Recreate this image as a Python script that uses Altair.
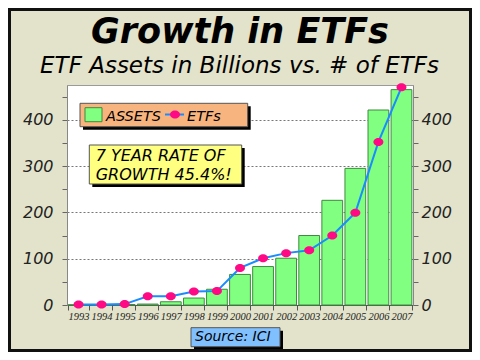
import altair as alt
import pandas as pd

years = ["1993", "1994", "1995", "1996", "1997", "1998", "1999", "2000",
         "2001", "2002", "2003", "2004", "2005", "2006", "2007"]
assets = [0.5, 0.5, 1, 2, 7, 15, 34, 66, 83, 101, 150, 226, 295, 421, 465]
etfs = [1, 1, 2, 19, 19, 29, 30, 80, 101, 112, 118, 150, 199, 352, 470]
axis_ticks = [0, 50, 100, 150, 200, 250, 300, 350, 400, 450]

title_text = "Growth in ETFs"
subtitle_text = "ETF Assets in Billions vs. # of ETFs"
legend_labels = ["ASSETS", "ETFs"]
note_lines = ["7 YEAR RATE OF", "GROWTH 45.4%!"]
source_text = "Source: ICI"

df = pd.DataFrame({"year": years, "assets": assets, "etfs": etfs})
one = pd.DataFrame({"d": [0]})

W, H = 346, 220
PADL, PADT = 59, 77
CW, CH = 464, 344

FONT = "DejaVu Sans"
DOMAIN = [0, 475]

xenc = alt.X("year:O", sort=years, title=None,
             scale=alt.Scale(paddingInner=0.1, paddingOuter=0.05),
             axis=alt.Axis(labelAngle=0, labelFont="Liberation Serif",
                           labelFontStyle="italic", labelFontSize=10.5,
                           labelColor="#222222", labelPadding=1, tickBand="extent",
                           tickSize=5, tickColor="#555555", domainColor="#555555"))

label_expr = "datum.value % 100 == 0 ? datum.label : ''"
yscale = alt.Scale(domain=DOMAIN, nice=False, zero=True)

bars = alt.Chart(df).mark_bar(fill="#80ff80", stroke="#3f8a3f", strokeWidth=1).encode(
    x=xenc,
    y=alt.Y("assets:Q", title=None, scale=yscale,
            axis=alt.Axis(values=axis_ticks, labelExpr=label_expr,
                          labelFont=FONT, labelFontStyle="italic", labelFontSize=16,
                          labelColor="#222222", labelPadding=9, tickSize=5,
                          tickColor="#666666", domainColor="#888888",
                          grid=True, gridDash=[2, 2], gridColor="#777777",
                          gridOpacity={"condition": {"test": "datum.value % 100 == 0 && datum.value > 0", "value": 1}, "value": 0})),
)

yright = alt.Y("etfs:Q", title=None, scale=yscale,
               axis=alt.Axis(orient="right", values=axis_ticks, labelExpr=label_expr,
                             labelFont=FONT, labelFontStyle="italic", labelFontSize=16,
                             labelColor="#222222", labelPadding=3, tickSize=5,
                             tickColor="#666666", domainColor="#888888", grid=False))

ELLIPSE = "M-1,0A1,0.8 0 1,0 1,0A1,0.8 0 1,0 -1,0Z"
line = alt.Chart(df).mark_line(color="#1a8cff", strokeWidth=2).encode(
    x=alt.X("year:O", sort=years), y=yright)
pts = alt.Chart(df).mark_point(shape=ELLIPSE, filled=True, fill="#ff0a84",
                               opacity=1, size=100, strokeWidth=0).encode(
    x=alt.X("year:O", sort=years), y=yright)
etf_layer = alt.layer(line, pts)

deco = alt.Chart(one)


def box(x1, x2, y1, y2, fill, shadow=True, stroke="#555555"):
    layers = []
    if shadow:
        layers.append(deco.mark_rect(fill="#000000").encode(
            x=alt.value(x1 + 3), x2=alt.value(x2 + 3), y=alt.value(y1 + 3), y2=alt.value(y2 + 3)))
    layers.append(deco.mark_rect(fill=fill, stroke=stroke, strokeWidth=1).encode(
        x=alt.value(x1), x2=alt.value(x2), y=alt.value(y1), y2=alt.value(y2)))
    return layers


def text(s, x, y, size, align="left", weight="normal", font=FONT):
    return deco.mark_text(text=s, font=font, fontSize=size, fontStyle="italic",
                          fontWeight=weight, align=align, baseline="alphabetic",
                          color="#000000").encode(x=alt.value(x), y=alt.value(y))


decos = []
decos.append(text(title_text, 173, -42, 35, align="center", weight="bold"))
decos.append(text(subtitle_text, 172.5, -12, 23, align="center"))
decos += box(13, 180.7, 18.3, 41.7, "#f7b47e")
decos.append(deco.mark_rect(fill="#80ff80", stroke="#3f8a3f", strokeWidth=1).encode(
    x=alt.value(18), x2=alt.value(35), y=alt.value(22.7), y2=alt.value(36.7)))
decos.append(text(legend_labels[0], 39, 36, 14.5))
decos.append(deco.mark_rule(color="#1a8cff", strokeWidth=2).encode(
    x=alt.value(98), x2=alt.value(117), y=alt.value(29.5)))
decos.append(deco.mark_point(shape=ELLIPSE, filled=True, fill="#ff0a84", opacity=1,
                             size=100, strokeWidth=0).encode(x=alt.value(108), y=alt.value(29.5)))
decos.append(text(legend_labels[1], 120, 36, 14.5))
decos += box(22.3, 174.7, 60, 99, "#ffff80")
decos.append(text(note_lines[0], 28.7, 76, 16))
decos.append(text(note_lines[1], 28.7, 95, 16))
decos += box(124, 213, 242.7, 261.7, "#80c0ff")
decos.append(text(source_text, 128, 255.7, 14))
decos.append(deco.mark_rect(fill="transparent", stroke="#111111", strokeWidth=3).encode(
    x=alt.value(-PADL + 1.5), x2=alt.value(CW - PADL - 1.5),
    y=alt.value(-PADT + 1.5), y2=alt.value(CH - PADT - 1.5)))

chart = alt.layer(bars, etf_layer, *decos).resolve_scale(y="independent").properties(
    width=W, height=H,
    autosize=alt.AutoSizeParams(type="none"),
    padding={"left": PADL, "top": PADT, "right": CW - PADL - W, "bottom": CH - PADT - H},
    background="#e3e2ca",
).configure_view(fill="#ffffff", stroke="#9a9a9a")

chart.save("out.html", embed_options={"renderer": "svg", "actions": False})
